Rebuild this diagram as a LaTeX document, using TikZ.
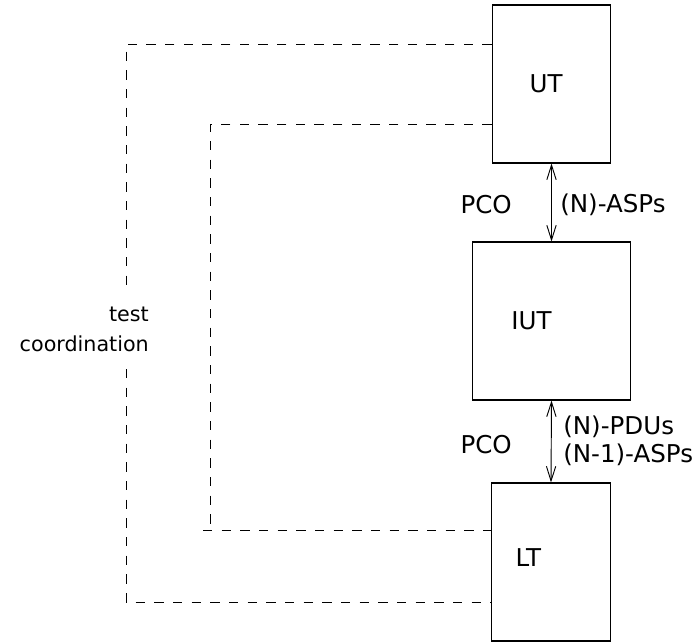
\documentclass[tikz,border=0pt]{standalone}
\usepackage{fontspec}
\setmainfont{DejaVu Sans}
\usepackage{tikz}
\usetikzlibrary{shapes,arrows.meta,positioning}
\tikzstyle{tbox} = [rectangle, draw, line width=0.8pt, minimum width=89pt, minimum height=118.5pt, inner sep=0pt]
\tikzstyle{wbox} = [tbox, minimum width=119pt]
\tikzstyle{line} = [draw, line width=0.6pt, dash pattern=on 7pt off 7pt]
\tikzstyle{pdu} = [draw, line width=0.7pt, {Straight Barb[length=11pt,width=7pt]}-{Straight Barb[length=11pt,width=7pt]}]
\tikzstyle{lbl} = [inner sep=0pt]

\begin{document}
\begin{tikzpicture}[x=0.75pt, y=-0.75pt, font=\fontsize{18.4}{21}\selectfont]
			\useasboundingbox (0,0) rectangle (698,642);
			\node [tbox, label={[xshift=-4pt]center:UT}] (ut) at (551.5, 84) {};
			\node [wbox, label={[xshift=-15pt]center:IUT}] (iut) at (551.5, 321) {};
			\node [tbox, label={[xshift=-17pt, yshift=3pt]center:LT}] (lt) at (551, 562) {};
			
			\path [pdu] (ut.south) -- (iut.north);
			\path [pdu] (iut.south) -- (lt.north);
			\node [lbl, anchor=east] (pco1) at (512, 205) {PCO};
			\node [lbl, anchor=west] (asp) at (560, 205) {(N)-ASPs};
			\node [lbl, anchor=east] (pco2) at (512, 445) {PCO};
			\node [lbl, anchor=west, align=left] (pdu) at (563, 441) {(N)-PDUs\\(N-1)-ASPs};
			
			\coordinate (o1) at (ut.west |- 0, 44);
			\coordinate (o2) at (lt.west |- 0, 602);
			\coordinate (i1) at (ut.west |- 0, 124);
			\coordinate (i2) at (lt.west |- 0, 530);
			\path [line] (o1) -- (126, 44) -- (126, 602) -- (o2);
			\path [line] (i1) -- (210, 124) -- (210, 530);
			\path [line] (203, 530) -- (i2);
			\node [lbl, fill=white, align=right, anchor=east, inner ysep=10pt,
			       font=\fontsize{15.5}{22.5}\selectfont] (coord) at (149, 329) {test\\coordination};
		\end{tikzpicture}
\end{document}
